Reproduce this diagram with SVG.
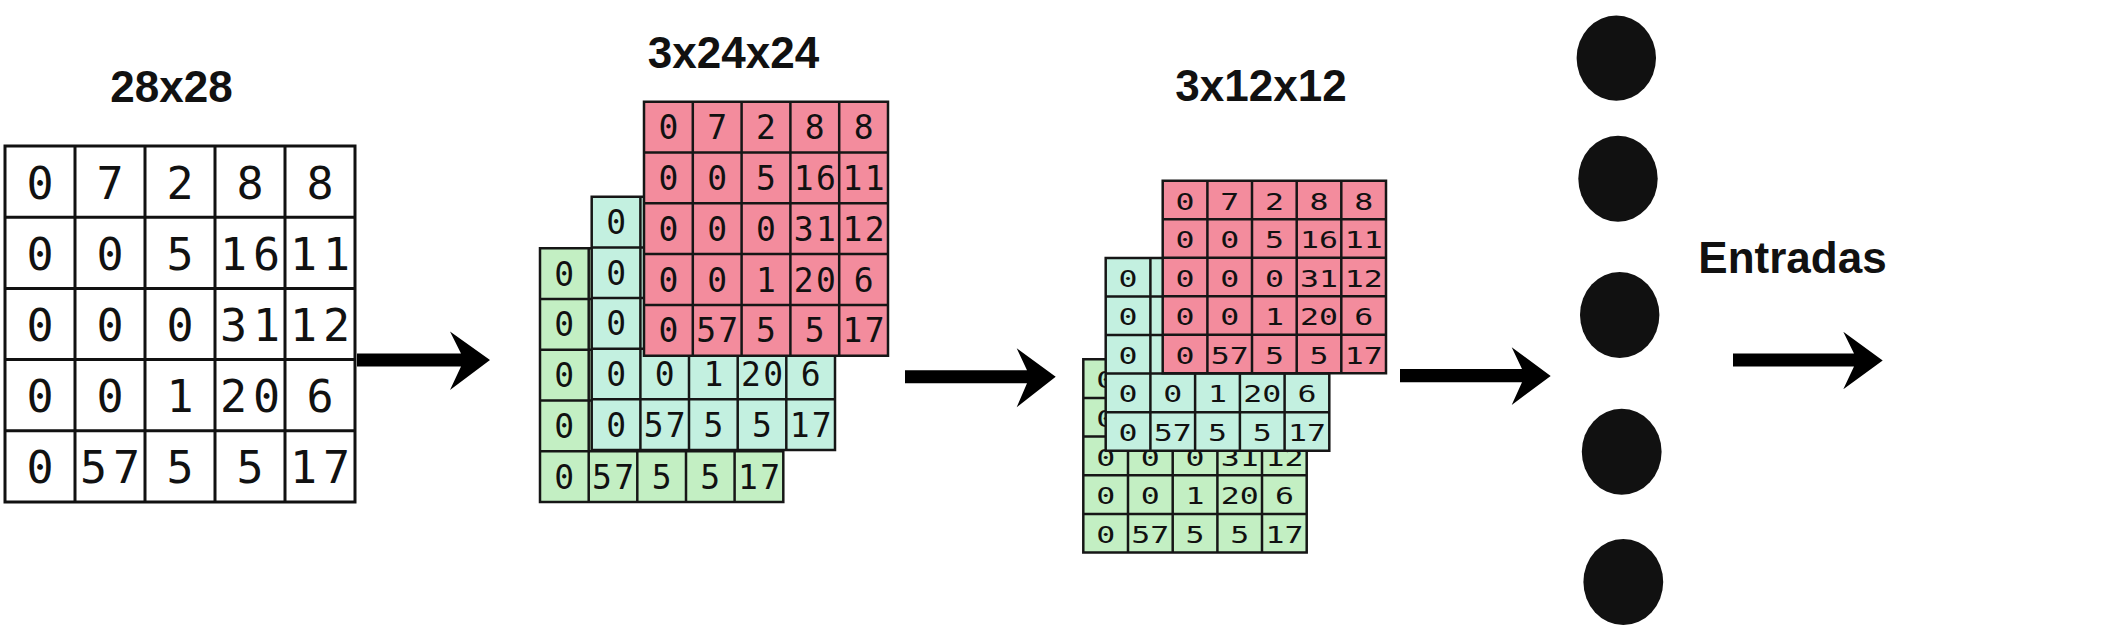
<svg xmlns="http://www.w3.org/2000/svg" width="2112" height="644" viewBox="0 0 2112 644">
<style>
.t{font-family:"Liberation Sans",Arial,sans-serif;font-weight:bold;font-size:44px;fill:#111;text-anchor:middle}
.d1{font-family:"DejaVu Sans Mono","Liberation Mono",monospace;font-size:45px;fill:#111;text-anchor:middle}
.d2{font-family:"DejaVu Sans Mono","Liberation Mono",monospace;font-size:33px;fill:#111;text-anchor:middle}
.d3{font-family:"DejaVu Sans Mono","Liberation Mono",monospace;font-size:23px;fill:#111;text-anchor:middle}
.ln{fill:none;stroke:#161616;stroke-width:2.5}
.ln1{fill:none;stroke:#111;stroke-width:3}
.pink{fill:#f38c9d}
.teal{fill:#c3f0e0}
.green{fill:#c3efc3}
.arrow{fill:#000}
.neuron{fill:#111}
</style>
<rect width="2112" height="644" fill="#fff"/>

<g id="title-28x28"><text class="t" x="171.5" y="101.7">28x28</text></g>
<g id="title-3x24x24"><text class="t" x="733.5" y="68.3">3x24x24</text></g>
<g id="title-3x12x12"><text class="t" x="1261" y="100.7">3x12x12</text></g>
<g id="label-entradas"><text class="t" x="1792.5" y="273">Entradas</text></g>

<g id="input-grid">
<rect x="5" y="146" width="350" height="356" fill="#fff"/>
<path class="ln1" d="M5,146H355V502H5Z M75,146V502 M145,146V502 M215,146V502 M285,146V502 M5,217.2H355 M5,288.4H355 M5,359.6H355 M5,430.8H355"/>
<text class="d1" x="40" y="198.6">0</text><text class="d1" x="110" y="198.6">7</text><text class="d1" x="180" y="198.6">2</text><text class="d1" x="250" y="198.6">8</text><text class="d1" x="320" y="198.6">8</text>
<text class="d1" x="40" y="269.8">0</text><text class="d1" x="110" y="269.8">0</text><text class="d1" x="180" y="269.8">5</text><text class="d1" x="250" y="269.8" textLength="60" lengthAdjust="spacing">16</text><text class="d1" x="320" y="269.8" textLength="60" lengthAdjust="spacing">11</text>
<text class="d1" x="40" y="341">0</text><text class="d1" x="110" y="341">0</text><text class="d1" x="180" y="341">0</text><text class="d1" x="250" y="341" textLength="60" lengthAdjust="spacing">31</text><text class="d1" x="320" y="341" textLength="60" lengthAdjust="spacing">12</text>
<text class="d1" x="40" y="412.2">0</text><text class="d1" x="110" y="412.2">0</text><text class="d1" x="180" y="412.2">1</text><text class="d1" x="250" y="412.2" textLength="60" lengthAdjust="spacing">20</text><text class="d1" x="320" y="412.2">6</text>
<text class="d1" x="40" y="483.4">0</text><text class="d1" x="110" y="483.4" textLength="60" lengthAdjust="spacing">57</text><text class="d1" x="180" y="483.4">5</text><text class="d1" x="250" y="483.4">5</text><text class="d1" x="320" y="483.4" textLength="60" lengthAdjust="spacing">17</text>
</g>

<g id="conv-stack">
<g id="conv-green">
<rect class="green" x="540" y="248.3" width="243.3" height="253.7"/>
<path class="ln" d="M540,248.3H783.3V502H540Z M588.7,248.3V502 M637.3,248.3V502 M686,248.3V502 M734.6,248.3V502 M540,299H783.3 M540,349.8H783.3 M540,400.5H783.3 M540,451.3H783.3"/>
<text class="d2" x="564.3" y="285.7">0</text><text class="d2" x="564.3" y="336.4">0</text><text class="d2" x="564.3" y="387.1">0</text><text class="d2" x="564.3" y="437.9">0</text>
<text class="d2" x="564.3" y="488.6">0</text><text class="d2" x="613" y="488.6" textLength="42" lengthAdjust="spacing">57</text><text class="d2" x="661.7" y="488.6">5</text><text class="d2" x="710.3" y="488.6">5</text><text class="d2" x="759" y="488.6" textLength="42" lengthAdjust="spacing">17</text>
</g>
<g id="conv-teal">
<rect class="teal" x="591.7" y="196.7" width="243.3" height="253.3"/>
<path class="ln" d="M591.7,196.7H835V450H591.7Z M640.4,196.7V450 M689,196.7V450 M737.7,196.7V450 M786.3,196.7V450 M591.7,247.4H835 M591.7,298H835 M591.7,348.7H835 M591.7,399.3H835"/>
<text class="d2" x="616.1" y="234">0</text><text class="d2" x="616.1" y="284.7">0</text><text class="d2" x="616.1" y="335.4">0</text>
<text class="d2" x="616.1" y="386">0</text><text class="d2" x="664.7" y="386">0</text><text class="d2" x="713.4" y="386">1</text><text class="d2" x="762" y="386" textLength="42" lengthAdjust="spacing">20</text><text class="d2" x="810.7" y="386">6</text>
<text class="d2" x="616.1" y="436.7">0</text><text class="d2" x="664.7" y="436.7" textLength="42" lengthAdjust="spacing">57</text><text class="d2" x="713.4" y="436.7">5</text><text class="d2" x="762" y="436.7">5</text><text class="d2" x="810.7" y="436.7" textLength="42" lengthAdjust="spacing">17</text>
</g>
<g id="conv-pink">
<rect class="pink" x="644" y="101.7" width="244" height="254"/>
<path class="ln" d="M644,101.7H888V355.7H644Z M692.8,101.7V355.7 M741.6,101.7V355.7 M790.4,101.7V355.7 M839.2,101.7V355.7 M644,152.5H888 M644,203.3H888 M644,254.1H888 M644,304.9H888"/>
<text class="d2" x="668.4" y="139.1">0</text><text class="d2" x="717.2" y="139.1">7</text><text class="d2" x="766" y="139.1">2</text><text class="d2" x="814.8" y="139.1">8</text><text class="d2" x="863.6" y="139.1">8</text>
<text class="d2" x="668.4" y="189.9">0</text><text class="d2" x="717.2" y="189.9">0</text><text class="d2" x="766" y="189.9">5</text><text class="d2" x="814.8" y="189.9" textLength="42" lengthAdjust="spacing">16</text><text class="d2" x="863.6" y="189.9" textLength="42" lengthAdjust="spacing">11</text>
<text class="d2" x="668.4" y="240.7">0</text><text class="d2" x="717.2" y="240.7">0</text><text class="d2" x="766" y="240.7">0</text><text class="d2" x="814.8" y="240.7" textLength="42" lengthAdjust="spacing">31</text><text class="d2" x="863.6" y="240.7" textLength="42" lengthAdjust="spacing">12</text>
<text class="d2" x="668.4" y="291.5">0</text><text class="d2" x="717.2" y="291.5">0</text><text class="d2" x="766" y="291.5">1</text><text class="d2" x="814.8" y="291.5" textLength="42" lengthAdjust="spacing">20</text><text class="d2" x="863.6" y="291.5">6</text>
<text class="d2" x="668.4" y="342.3">0</text><text class="d2" x="717.2" y="342.3" textLength="42" lengthAdjust="spacing">57</text><text class="d2" x="766" y="342.3">5</text><text class="d2" x="814.8" y="342.3">5</text><text class="d2" x="863.6" y="342.3" textLength="42" lengthAdjust="spacing">17</text>
</g>
</g>

<g id="pool-stack">
<g id="pool-green">
<rect class="green" x="1083.3" y="359.3" width="223.4" height="193.3"/>
<path class="ln" d="M1083.3,359.3H1306.7V552.6H1083.3Z M1128,359.3V552.6 M1172.7,359.3V552.6 M1217.4,359.3V552.6 M1262,359.3V552.6 M1083.3,398H1306.7 M1083.3,436.6H1306.7 M1083.3,475.3H1306.7 M1083.3,513.9H1306.7"/>
<text class="d3" x="1105.7" y="388.1" textLength="19" lengthAdjust="spacingAndGlyphs">0</text><text class="d3" x="1105.7" y="426.8" textLength="19" lengthAdjust="spacingAndGlyphs">0</text>
<text class="d3" x="1105.7" y="465.5" textLength="19" lengthAdjust="spacingAndGlyphs">0</text><text class="d3" x="1150.3" y="465.5" textLength="19" lengthAdjust="spacingAndGlyphs">0</text><text class="d3" x="1195" y="465.5" textLength="19" lengthAdjust="spacingAndGlyphs">0</text><text class="d3" x="1239.7" y="465.5" textLength="38" lengthAdjust="spacingAndGlyphs">31</text><text class="d3" x="1284.4" y="465.5" textLength="38" lengthAdjust="spacingAndGlyphs">12</text>
<text class="d3" x="1105.7" y="504.1" textLength="19" lengthAdjust="spacingAndGlyphs">0</text><text class="d3" x="1150.3" y="504.1" textLength="19" lengthAdjust="spacingAndGlyphs">0</text><text class="d3" x="1195" y="504.1" textLength="19" lengthAdjust="spacingAndGlyphs">1</text><text class="d3" x="1239.7" y="504.1" textLength="38" lengthAdjust="spacingAndGlyphs">20</text><text class="d3" x="1284.4" y="504.1" textLength="19" lengthAdjust="spacingAndGlyphs">6</text>
<text class="d3" x="1105.7" y="542.8" textLength="19" lengthAdjust="spacingAndGlyphs">0</text><text class="d3" x="1150.3" y="542.8" textLength="38" lengthAdjust="spacingAndGlyphs">57</text><text class="d3" x="1195" y="542.8" textLength="19" lengthAdjust="spacingAndGlyphs">5</text><text class="d3" x="1239.7" y="542.8" textLength="19" lengthAdjust="spacingAndGlyphs">5</text><text class="d3" x="1284.4" y="542.8" textLength="38" lengthAdjust="spacingAndGlyphs">17</text>
</g>
<g id="pool-teal">
<rect class="teal" x="1105.7" y="258" width="223.6" height="192.7"/>
<path class="ln" d="M1105.7,258H1329.3V450.7H1105.7Z M1150.4,258V450.7 M1195.1,258V450.7 M1239.9,258V450.7 M1284.6,258V450.7 M1105.7,296.5H1329.3 M1105.7,335.1H1329.3 M1105.7,373.6H1329.3 M1105.7,412.2H1329.3"/>
<text class="d3" x="1128" y="286.8" textLength="19" lengthAdjust="spacingAndGlyphs">0</text><text class="d3" x="1128" y="325.3" textLength="19" lengthAdjust="spacingAndGlyphs">0</text><text class="d3" x="1128" y="363.8" textLength="19" lengthAdjust="spacingAndGlyphs">0</text>
<text class="d3" x="1128" y="402.4" textLength="19" lengthAdjust="spacingAndGlyphs">0</text><text class="d3" x="1172.8" y="402.4" textLength="19" lengthAdjust="spacingAndGlyphs">0</text><text class="d3" x="1217.5" y="402.4" textLength="19" lengthAdjust="spacingAndGlyphs">1</text><text class="d3" x="1262.2" y="402.4" textLength="38" lengthAdjust="spacingAndGlyphs">20</text><text class="d3" x="1307" y="402.4" textLength="19" lengthAdjust="spacingAndGlyphs">6</text>
<text class="d3" x="1128" y="440.9" textLength="19" lengthAdjust="spacingAndGlyphs">0</text><text class="d3" x="1172.8" y="440.9" textLength="38" lengthAdjust="spacingAndGlyphs">57</text><text class="d3" x="1217.5" y="440.9" textLength="19" lengthAdjust="spacingAndGlyphs">5</text><text class="d3" x="1262.2" y="440.9" textLength="19" lengthAdjust="spacingAndGlyphs">5</text><text class="d3" x="1307" y="440.9" textLength="38" lengthAdjust="spacingAndGlyphs">17</text>
</g>
<g id="pool-pink">
<rect class="pink" x="1162.7" y="180.7" width="223.3" height="192.6"/>
<path class="ln" d="M1162.7,180.7H1386V373.3H1162.7Z M1207.4,180.7V373.3 M1252,180.7V373.3 M1296.7,180.7V373.3 M1341.3,180.7V373.3 M1162.7,219.2H1386 M1162.7,257.7H1386 M1162.7,296.3H1386 M1162.7,334.8H1386"/>
<text class="d3" x="1185" y="209.5" textLength="19" lengthAdjust="spacingAndGlyphs">0</text><text class="d3" x="1229.7" y="209.5" textLength="19" lengthAdjust="spacingAndGlyphs">7</text><text class="d3" x="1274.4" y="209.5" textLength="19" lengthAdjust="spacingAndGlyphs">2</text><text class="d3" x="1319" y="209.5" textLength="19" lengthAdjust="spacingAndGlyphs">8</text><text class="d3" x="1363.7" y="209.5" textLength="19" lengthAdjust="spacingAndGlyphs">8</text>
<text class="d3" x="1185" y="248" textLength="19" lengthAdjust="spacingAndGlyphs">0</text><text class="d3" x="1229.7" y="248" textLength="19" lengthAdjust="spacingAndGlyphs">0</text><text class="d3" x="1274.4" y="248" textLength="19" lengthAdjust="spacingAndGlyphs">5</text><text class="d3" x="1319" y="248" textLength="38" lengthAdjust="spacingAndGlyphs">16</text><text class="d3" x="1363.7" y="248" textLength="38" lengthAdjust="spacingAndGlyphs">11</text>
<text class="d3" x="1185" y="286.5" textLength="19" lengthAdjust="spacingAndGlyphs">0</text><text class="d3" x="1229.7" y="286.5" textLength="19" lengthAdjust="spacingAndGlyphs">0</text><text class="d3" x="1274.4" y="286.5" textLength="19" lengthAdjust="spacingAndGlyphs">0</text><text class="d3" x="1319" y="286.5" textLength="38" lengthAdjust="spacingAndGlyphs">31</text><text class="d3" x="1363.7" y="286.5" textLength="38" lengthAdjust="spacingAndGlyphs">12</text>
<text class="d3" x="1185" y="325" textLength="19" lengthAdjust="spacingAndGlyphs">0</text><text class="d3" x="1229.7" y="325" textLength="19" lengthAdjust="spacingAndGlyphs">0</text><text class="d3" x="1274.4" y="325" textLength="19" lengthAdjust="spacingAndGlyphs">1</text><text class="d3" x="1319" y="325" textLength="38" lengthAdjust="spacingAndGlyphs">20</text><text class="d3" x="1363.7" y="325" textLength="19" lengthAdjust="spacingAndGlyphs">6</text>
<text class="d3" x="1185" y="363.5" textLength="19" lengthAdjust="spacingAndGlyphs">0</text><text class="d3" x="1229.7" y="363.5" textLength="38" lengthAdjust="spacingAndGlyphs">57</text><text class="d3" x="1274.4" y="363.5" textLength="19" lengthAdjust="spacingAndGlyphs">5</text><text class="d3" x="1319" y="363.5" textLength="19" lengthAdjust="spacingAndGlyphs">5</text><text class="d3" x="1363.7" y="363.5" textLength="38" lengthAdjust="spacingAndGlyphs">17</text>
</g>
</g>

<g id="neurons">
<ellipse id="neuron-1" class="neuron" cx="1616.3" cy="58.1" rx="39.7" ry="42.7"/>
<ellipse id="neuron-2" class="neuron" cx="1618" cy="178.7" rx="39.7" ry="43"/>
<ellipse id="neuron-3" class="neuron" cx="1619.7" cy="315" rx="39.7" ry="43"/>
<ellipse id="neuron-4" class="neuron" cx="1621.7" cy="451.8" rx="39.9" ry="43"/>
<ellipse id="neuron-5" class="neuron" cx="1623.3" cy="582" rx="39.9" ry="43"/>
</g>

<g id="connectors">
<path class="arrow" d="M357,353.5H461L450,331.5L490,360L450,390L461,366.5H357Z"/>
<path class="arrow" d="M905,370.2H1027L1016.7,348.3L1055.7,376.7L1016.7,407.3L1027,383.2H905Z"/>
<path class="arrow" d="M1400,369H1522L1511.7,347.3L1550.7,376L1511.7,405L1522,382.3H1400Z"/>
<path class="arrow" d="M1733,353.5H1854L1843.3,331.8L1882.7,360.5L1843.3,389.3L1854,366.5H1733Z"/>
</g>
</svg>
